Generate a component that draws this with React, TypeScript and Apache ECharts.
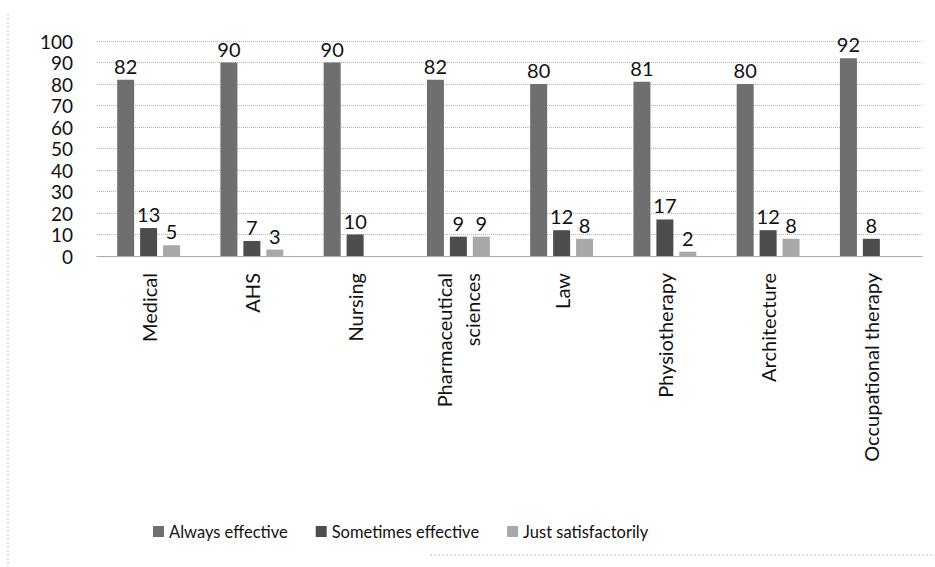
import React, { useEffect, useRef } from "react";
import * as echarts from "echarts";

const categories = [
  "Medical",
  "AHS",
  "Nursing",
  "Pharmaceutical\nsciences",
  "Law",
  "Physiotherapy",
  "Architecture",
  "Occupational therapy",
];
const alwaysEffective = [82, 90, 90, 82, 80, 81, 80, 92];
const sometimesEffective = [13, 7, 10, 9, 12, 17, 12, 8];
const justSatisfactorily = [5, 3, null, 9, 8, 2, 8, null];
const seriesNames = ["Always effective", "Sometimes effective", "Just satisfactorily"];
const yTicks = { min: 0, max: 100, interval: 10 };

const FONT = "Lato, 'Open Sans', sans-serif";

export default function App() {
  const ref = useRef<HTMLDivElement>(null);
  useEffect(() => {
    if (!ref.current) return;
    const chart = echarts.init(ref.current, null, { renderer: "svg" });
    const label = {
      show: true,
      position: "top" as const,
      color: "#111",
      fontSize: 20,
      fontFamily: FONT,
      distance: 4,
    };
    const mk = (name: string, data: (number | null)[], color: string) => ({
      name,
      type: "bar" as const,
      data,
      barWidth: 17,
      barGap: "35%",
      itemStyle: { color },
      label,
    });
    chart.setOption({
      animation: false,
      backgroundColor: "#fff",
      textStyle: { fontFamily: FONT },
      grid: { left: 97, right: 12, top: 41, bottom: 311, containLabel: false },
      legend: {
        data: seriesNames,
        left: 148,
        top: 518,
        itemWidth: 11,
        itemHeight: 11,
        itemGap: 28,
        icon: "rect",
        textStyle: { fontSize: 16.5, color: "#111", fontFamily: FONT },
      },
      xAxis: {
        type: "category",
        data: categories,
        axisLine: { show: true, lineStyle: { color: "#999", type: "dotted" } },
        axisTick: { show: false },
        axisLabel: {
          rotate: 90,
          interval: 0,
          margin: 17,
          color: "#111",
          fontSize: 20,
          fontFamily: FONT,
          lineHeight: 28,
        },
      },
      yAxis: {
        type: "value",
        min: yTicks.min,
        max: yTicks.max,
        interval: yTicks.interval,
        axisLine: { show: false },
        axisTick: { show: false },
        axisLabel: {
          color: "#111",
          fontSize: 19,
          lineHeight: 19,
          fontFamily: FONT,
          margin: 24,
        },
        splitLine: { show: true, lineStyle: { color: "#b5b5b5", type: "dotted", width: 1 } },
      },
      series: [
        mk(seriesNames[0], alwaysEffective, "#6f6f6f"),
        mk(seriesNames[1], sometimesEffective, "#4d4d4d"),
        mk(seriesNames[2], justSatisfactorily, "#a8a8a8"),
      ],
      graphic: [
        {
          type: "line",
          shape: { x1: 8, y1: 14, x2: 8, y2: 567 },
          style: { stroke: "#c8c8c8", lineWidth: 1, lineDash: [2, 2] },
        },
        {
          type: "line",
          shape: { x1: 430, y1: 555, x2: 935, y2: 555 },
          style: { stroke: "#bdbdbd", lineWidth: 1, lineDash: [2, 2] },
        },
      ],
    });
    return () => chart.dispose();
  }, []);
  return (
    <div
      ref={ref}
      style={{ position: "fixed", left: 0, top: 0, width: 935, height: 567, background: "#fff" }}
    />
  );
}
